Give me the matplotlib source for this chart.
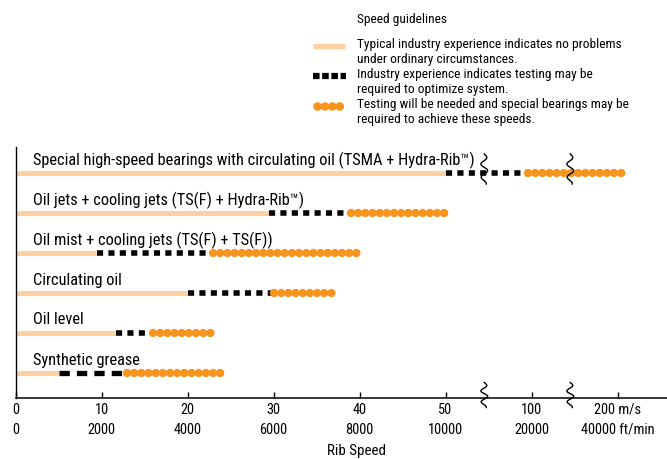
import numpy as np
import matplotlib
matplotlib.use("Agg")
import matplotlib.pyplot as plt
from matplotlib import font_manager as fm
from matplotlib.transforms import IdentityTransform

# ---------------- data ----------------
categories = [
    "Special high-speed bearings with circulating oil (TSMA + Hydra-Rib\u2122)",
    "Oil jets + cooling jets (TS(F) + Hydra-Rib\u2122)",
    "Oil mist + cooling jets (TS(F) + TS(F))",
    "Circulating oil",
    "Oil level",
    "Synthetic grease",
]
typical_end = [50, 29.5, 9.5, 20, 11.7, 5]       # m/s
testing_end = [98, 39, 23, 30, 16, 13]           # m/s
special_end = [212, 50.5, 40, 37, 23, 24.5]      # m/s

tick_ms = [0, 10, 20, 30, 40, 50, 100, 200]
tick_ftmin = [0, 2000, 4000, 6000, 8000, 10000, 20000, 40000]
x_label = "Rib Speed"

legend_title = "Speed guidelines"
legend_texts = [
    "Typical industry experience indicates no problems\nunder ordinary circumstances.",
    "Industry experience indicates testing may be\nrequired to optimize system.",
    "Testing will be needed and special bearings may be\nrequired to achieve these speeds.",
]

# broken (piecewise) axis definition
scale_values = [0, 50, 100, 200, 300]
scale_steps = [0, 5, 6, 7, 8]
break_values = [72.5, 145]

# ---------------- style ----------------
PEACH = "#FDD1A1"
ORANGE = "#F7941E"

names = {f.name for f in fm.fontManager.ttflist}
font_family = "DejaVu Sans"
font_stretch = "condensed"
for cand in ["Liberation Sans Narrow", "Roboto Condensed", "Open Sans Condensed",
             "Arial Narrow", "Noto Sans Condensed"]:
    if cand in names:
        font_family = cand
        break
else:
    cond = [f.name for f in fm.fontManager.ttflist
            if str(f.stretch) in ("condensed", "semi-condensed", "extra-condensed", "ultra-condensed")
            or (isinstance(f.stretch, int) and f.stretch < 500)]
    if cond:
        font_family = cond[0]
plt.rcParams["font.family"] = [font_family, "DejaVu Sans"]
plt.rcParams["font.stretch"] = font_stretch

W, H = 667, 459
fig = plt.figure(figsize=(W / 100, H / 100), dpi=100)


def fx(px):
    return px / W


def fy(py):
    return 1 - py / H


left_px, right_px, top_px, bot_px = 15.5, 667, 147, 398
ax = fig.add_axes([fx(left_px), fy(bot_px), fx(right_px - left_px), (bot_px - top_px) / H])


def fwd(v):
    return np.interp(v, scale_values, scale_steps)


def inv(p):
    return np.interp(p, scale_steps, scale_values)


ax.set_xscale("function", functions=(fwd, inv))
step_px = 86.0
right_step = (right_px - left_px) / step_px
ax.set_xlim(0, float(inv(right_step)))

row_px = [173, 212, 252, 293, 334, 373]
row_gap = 40.0
ys = [5 - i for i in range(len(categories))]
ax.set_ylim(5 - (bot_px - row_px[0]) / row_gap, 5 + (row_px[0] - top_px) / row_gap)

for sp in ["top", "right"]:
    ax.spines[sp].set_visible(False)
ax.spines["left"].set_linewidth(1.0)
ax.spines["bottom"].set_linewidth(1.1)
ax.set_yticks([])
ax.set_xticks(tick_ms)
labels = [f"{a}\n{b}" for a, b in zip(tick_ms, tick_ftmin)]
labels[-1] = f"{tick_ms[-1]} m/s\n{tick_ftmin[-1]} ft/min"
ax.set_xticklabels(labels, fontsize=10.4, linespacing=1.55)
ax.tick_params(axis="x", direction="in", length=4.3, width=1.0, pad=3.5, colors="black")
ax.patch.set_alpha(0)

for i, (cat, y) in enumerate(zip(categories, ys)):
    ax.plot([0, typical_end[i]], [y, y], color=PEACH, lw=3.7, solid_capstyle="butt", zorder=2)
    if i == len(categories) - 1:
        dash = (0, (1.95, 1.35))
        lwb = 3.8
    else:
        dash = (0, (1.1, 0.95))
        lwb = 4.0
    ax.plot([typical_end[i], testing_end[i]], [y, y], color="black", lw=lwb,
            linestyle=dash, dash_capstyle="butt", zorder=3)
    ax.plot([testing_end[i], special_end[i]], [y, y], color=ORANGE, lw=6.0,
            linestyle=(0, (0.01, 0.85)), dash_capstyle="round", zorder=4)
    ax.text(2.0, y + 13 / row_gap, cat, fontsize=11.8, va="center", ha="left",
            transform=ax.transData)

# axis title (placed so it sits at the bottom edge like the reference)
fig.text(fx(357), fy(458), x_label, fontsize=10.8, va="bottom", ha="center")

# break squiggles
fig.canvas.draw()


def squiggle(cx, cy, h=26, amp=3.5):
    t = np.linspace(0, 1, 120)
    xs = cx + amp * np.sin(2 * np.pi * 2.25 * t) * (0.6 + 0.4 * np.sin(np.pi * t))
    yy = cy + h / 2 - h * t
    fig.add_artist(plt.Line2D(xs, yy, transform=IdentityTransform(), color="black", lw=1.0, zorder=10))


for bv in break_values:
    cx, cy_axis = ax.transData.transform((bv, ax.get_ylim()[0]))
    squiggle(cx, cy_axis + 3, h=25)
    _, cy_row = ax.transData.transform((bv, ys[0]))
    squiggle(cx, cy_row + 4, h=30)

# legend
fig.text(fx(357), fy(19), legend_title, fontsize=9.6, va="center", ha="left")
sw_y = [46, 76, 106]
fig.add_artist(plt.Line2D([fx(313), fx(345)], [fy(46), fy(46)], color=PEACH, lw=3.9,
                          solid_capstyle="butt", transform=fig.transFigure))
fig.add_artist(plt.Line2D([fx(313), fx(346)], [fy(76), fy(76)], color="black", lw=4.5,
                          linestyle=(0, (1.05, 0.42)), dash_capstyle="butt",
                          transform=fig.transFigure))
fig.add_artist(plt.Line2D([fx(317), fx(343)], [fy(106), fy(106)], color=ORANGE, lw=6.2,
                          linestyle=(0, (0.01, 0.85)), dash_capstyle="round",
                          transform=fig.transFigure))
for t, y in zip(legend_texts, sw_y):
    fig.text(fx(357), fy(y - 8), t, fontsize=9.6, va="top", ha="left", linespacing=1.2)

fig.savefig("out.png", dpi=100)
